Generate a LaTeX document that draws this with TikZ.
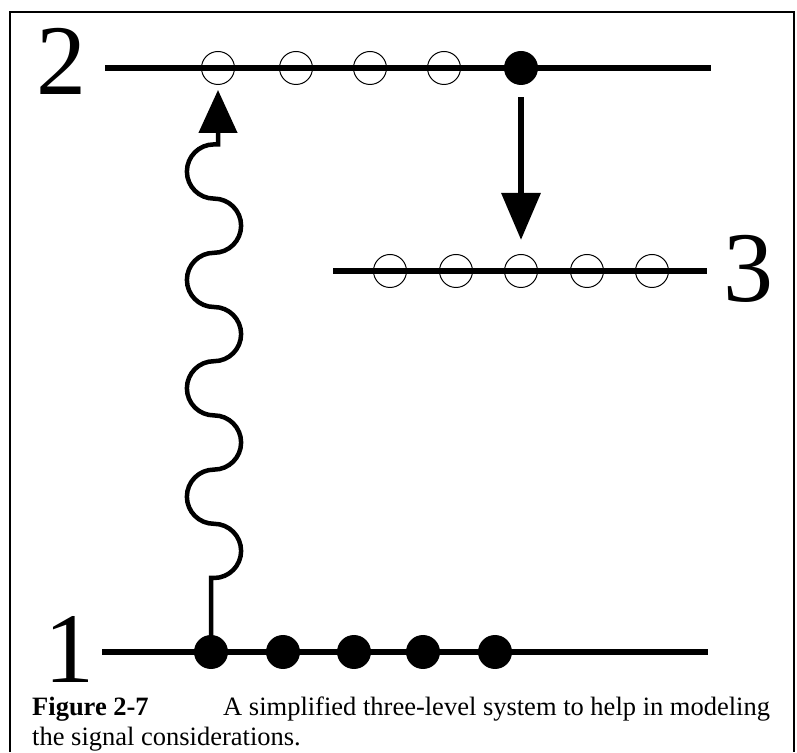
\documentclass[tikz,border=0pt]{standalone}
\usepackage{fontspec}
\setmainfont{Liberation Serif}
\usetikzlibrary{arrows.meta}

\tikzset{
  level/.style={line width=5.5pt},
  hole/.style={circle, draw, line width=1pt, minimum size=33pt, inner sep=0pt},
  electron/.style={circle, fill=black, minimum size=34pt, inner sep=0pt},
  levelnum/.style={font=\fontsize{100}{100}\selectfont, inner sep=0pt},
  caption/.style={font=\fontsize{26.5}{30}\selectfont, inner sep=0pt, anchor=base west},
  decay/.style={line width=6.5pt, -{Triangle[length=47pt, width=38pt]}},
  photon/.style={line width=4.5pt, -{Triangle[length=43pt, width=38pt]}},
}

\begin{document}
\begin{tikzpicture}[x=1pt, y=1pt]
  \useasboundingbox (0,0) rectangle (797,752);

  % frame (open at the bottom)
  \draw[line width=2pt] (10,0) -- (10,740) -- (793.5,740) -- (793.5,0);

  % energy levels
  \coordinate (l2a) at (105,684);  \coordinate (l2b) at (711,684);
  \coordinate (l3a) at (333,481);  \coordinate (l3b) at (707,481);
  \coordinate (l1a) at (102,100);  \coordinate (l1b) at (708,100);
  \draw[level] (l2a) -- (l2b);
  \draw[level] (l3a) -- (l3b);
  \draw[level] (l1a) -- (l1b);

  % level numbers
  \node[levelnum, anchor=base] (n2) at (61,657) {2};
  \node[levelnum, anchor=base] (n3) at (748,450) {3};
  \node[levelnum, anchor=base] (n1) at (69,70) {1};

  % level 2 population
  \node[hole] (h2a) at (218,684) {};
  \node[hole] (h2b) at (296,684) {};
  \node[hole] (h2c) at (370,684) {};
  \node[hole] (h2d) at (444,684) {};
  \node[electron] (e2) at (521,684) {};

  % level 3 population
  \node[hole] (h3a) at (390,481) {};
  \node[hole] (h3b) at (456,481) {};
  \node[hole] (h3c) at (521,481) {};
  \node[hole] (h3d) at (587,481) {};
  \node[hole] (h3e) at (652,481) {};

  % level 1 population
  \node[electron] (e1a) at (211,100) {};
  \node[electron] (e1b) at (283,100) {};
  \node[electron] (e1c) at (354,100) {};
  \node[electron] (e1d) at (423,100) {};
  \node[electron] (e1e) at (495,100) {};

  % decay 2 -> 3
  \draw[decay, shorten <=12pt, shorten >=14pt] (e2.south) -- (h3c.north);

  % pump 1 -> 2 (wavy photon)
  \draw[photon] (e1a.center) -- ++(0,74) -- ++(3,0)
    arc[start angle=-90, end angle=90, radius=27.1]
    arc[start angle=-90, end angle=-270, radius=27.1]
    arc[start angle=-90, end angle=90, radius=27.1]
    arc[start angle=-90, end angle=-270, radius=27.1]
    arc[start angle=-90, end angle=90, radius=27.1]
    arc[start angle=-90, end angle=-270, radius=27.1]
    arc[start angle=-90, end angle=90, radius=27.1]
    arc[start angle=-90, end angle=-270, radius=27.1]
    -- ++(4,0) -- ([yshift=-5pt]h2a.south);

  % caption
  \node[caption] (capA) at (32,37) {\textbf{Figure 2-7}};
  \node[caption] (capB) at (223,37) {A simplified three-level system to help in modeling};
  \node[caption] (capC) at (32,7) {the signal considerations.};
\end{tikzpicture}
\end{document}
